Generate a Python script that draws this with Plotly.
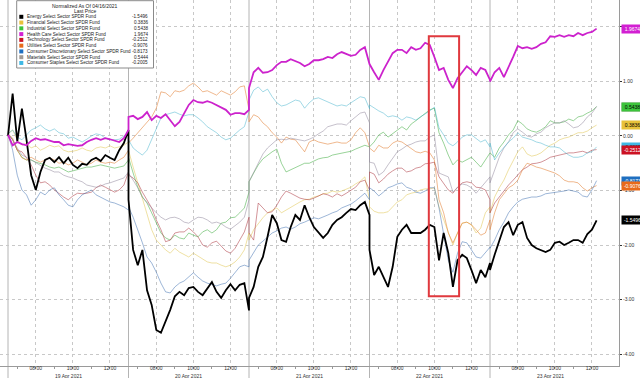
import plotly.graph_objects as go

# ---------------- data ----------------
days = ["19 Apr 2021", "20 Apr 2021", "21 Apr 2021", "22 Apr 2021", "23 Apr 2021"]
session_minutes = 390          # 06:30 - 13:00 local time
step_minutes = 15
points_per_day = [27, 27, 27, 27, 24]
tick_labels = ["08:00", "10:00", "12:00"]
tick_minutes = [90, 210, 330]
hour_minutes = [30, 90, 150, 210, 270, 330]
y_ticks = [-4, -3, -2, -1, 0, 1, 2]

names = ["Energy Select Sector SPDR Fund", "Financial Select Sector SPDR Fund",
         "Industrial Select Sector SPDR Fund", "Health Care Select Sector SPDR Fund",
         "Technology Select Sector SPDR Fund", "Utilities Select Sector SPDR Fund",
         "Consumer Discretionary Select Sector SPDR Fund", "Materials Select Sector SPDR Fund",
         "Consumer Staples Select Sector SPDR Fund"]
last_price = [-1.5496, 0.3836, 0.5438, 1.9674, -0.2512, -0.9076, -0.8173, 0.5444, -0.2005]

energy = [0.00, 0.78, -0.10, 0.50, -0.07, -0.72, -0.99, -0.66, -0.44, -0.40, -0.48, -0.39, -0.50, -0.40, -0.53, -0.59, -0.51, -0.53, -0.44, -0.40, -0.46, -0.35, -0.40, -0.44, -0.26, -0.13, 0.11,
          -1.17, -2.09, -2.37, -2.09, -2.83, -3.10, -3.56, -3.61, -3.41, -3.19, -2.94, -2.86, -2.92, -2.79, -2.77, -2.86, -2.92, -2.79, -2.68, -2.86, -2.97, -2.83, -2.72, -2.83, -2.73, -2.70, -3.20,
          -2.97, -2.77, -2.40, -2.22, -1.85, -1.45, -1.60, -1.91, -1.94, -1.67, -1.45, -1.54, -1.27, -1.49, -1.67, -1.78, -1.87, -1.78, -1.63, -1.54, -1.49, -1.41, -1.34, -1.36, -1.27, -1.21, -1.45,
          -2.09, -2.55, -2.40, -2.59, -2.77, -2.40, -1.85, -1.72, -1.63, -1.78, -1.78, -1.78, -1.72, -1.63, -1.67, -2.28, -1.78, -2.15, -2.77, -2.28, -2.18, -2.24, -2.46, -2.70, -2.46, -2.59, -2.33,
          -2.46, -2.18, -1.91, -1.67, -1.58, -1.82, -1.63, -1.58, -1.87, -2.00, -2.06, -2.09, -2.13, -2.09, -1.96, -1.94, -2.00, -1.96, -1.91, -1.91, -1.96, -1.80, -1.72, -1.55]

financials = [0.04, 0.11, -0.07, -0.17, -0.13, -0.22, -0.18, -0.26, -0.22, -0.17, -0.20, -0.18, -0.26, -0.29, -0.28, -0.26, -0.22, -0.26, -0.28, -0.22, -0.20, -0.22, -0.18, -0.22, -0.20, -0.17, -0.11,
              -0.26, -0.57, -0.86, -1.12, -1.41, -1.72, -1.91, -2.00, -2.09, -2.15, -2.06, -2.13, -2.18, -2.22, -2.15, -2.20, -2.26, -2.31, -2.33, -2.33, -2.37, -2.40, -2.37, -2.31, -2.22, -2.09, -1.78,
              -1.91, -1.72, -1.60, -1.50, -1.41, -1.36, -1.32, -1.41, -1.36, -1.30, -1.25, -1.21, -1.17, -1.16, -1.12, -1.10, -1.06, -1.05, -1.01, -1.03, -1.01, -0.97, -0.94, -0.88, -0.83, -0.75, -1.17,
              -1.30, -1.38, -1.41, -1.41, -1.39, -1.30, -1.21, -1.17, -1.08, -1.05, -1.03, -0.99, -0.97, -0.97, -0.95, -1.30, -1.54, -1.78, -2.00, -1.78, -1.60, -1.58, -1.63, -1.78, -1.69, -1.41, -1.30,
              -1.41, -1.12, -0.95, -0.81, -0.62, -0.44, -0.29, -0.20, -0.33, -0.37, -0.35, -0.31, -0.24, -0.17, -0.13, -0.07, -0.04, -0.02, 0.02, 0.06, 0.06, 0.09, 0.15, 0.20]

industrials = [0.04, -0.07, -0.26, -0.39, -0.44, -0.44, -0.48, -0.50, -0.53, -0.57, -0.59, -0.57, -0.62, -0.66, -0.64, -0.62, -0.59, -0.57, -0.57, -0.55, -0.53, -0.55, -0.57, -0.59, -0.57, -0.55, -0.44,
               -0.39, -0.68, -0.94, -1.12, -1.23, -1.41, -1.60, -1.78, -1.87, -1.91, -1.82, -1.87, -1.89, -1.78, -1.82, -1.85, -1.76, -1.72, -1.78, -1.72, -1.60, -1.58, -1.50, -1.49, -1.41, -1.32, -1.03,
               -0.84, -0.68, -0.53, -0.42, -0.35, -0.29, -0.24, -0.50, -0.66, -0.62, -0.57, -0.53, -0.50, -0.50, -0.46, -0.42, -0.40, -0.39, -0.35, -0.33, -0.31, -0.29, -0.28, -0.24, -0.20, -0.17, -0.20,
               -0.20, -0.11, 0.02, 0.07, -0.02, 0.04, 0.11, 0.17, 0.11, 0.22, 0.28, 0.35, 0.42, 0.48, 0.51, 0.06, -0.13, -0.35, -0.53, -0.44, -0.48, -0.44, -0.39, -0.48, -0.57, -0.44, -0.31,
               -0.31, -0.39, -0.22, -0.11, 0.02, 0.11, 0.28, 0.22, 0.13, 0.09, 0.07, 0.11, 0.17, 0.28, 0.24, 0.24, 0.26, 0.31, 0.28, 0.35, 0.37, 0.42, 0.46, 0.54]

health_care = [0.02, -0.17, -0.11, -0.15, -0.17, -0.09, -0.04, -0.07, -0.06, -0.09, -0.11, -0.11, -0.17, -0.15, -0.17, -0.18, -0.17, -0.11, -0.07, -0.04, -0.07, -0.04, -0.06, -0.09, -0.11, -0.04, 0.11,
               0.35, 0.37, 0.31, 0.35, 0.44, 0.29, 0.37, 0.33, 0.40, 0.29, 0.18, 0.26, 0.42, 0.57, 0.66, 0.62, 0.61, 0.64, 0.61, 0.57, 0.53, 0.48, 0.39, 0.42, 0.42, 0.40, 0.48,
               0.88, 1.17, 1.25, 1.16, 1.17, 1.21, 1.30, 1.36, 1.36, 1.41, 1.38, 1.34, 1.28, 1.32, 1.39, 1.39, 1.41, 1.45, 1.43, 1.50, 1.54, 1.50, 1.47, 1.49, 1.58, 1.63, 1.35,
               1.32, 1.17, 1.03, 1.21, 1.36, 1.52, 1.58, 1.58, 1.52, 1.63, 1.58, 1.61, 1.71, 1.67, 1.45, 1.21, 1.25, 1.03, 0.88, 1.06, 1.17, 1.28, 1.21, 1.12, 1.25, 1.21, 1.03,
               1.00, 1.17, 1.25, 1.08, 1.25, 1.45, 1.65, 1.61, 1.63, 1.60, 1.63, 1.69, 1.72, 1.83, 1.82, 1.85, 1.82, 1.85, 1.83, 1.89, 1.85, 1.89, 1.91, 1.97]

technology = [0.04, -0.07, -0.26, -0.29, -0.40, -0.53, -0.72, -0.86, -0.84, -0.90, -0.99, -1.06, -1.12, -1.17, -1.10, -1.05, -1.06, -1.05, -1.03, -0.95, -0.90, -0.94, -0.99, -1.03, -0.99, -0.90, -0.66,
              -0.72, -0.77, -0.86, -1.03, -1.17, -1.32, -1.54, -1.72, -1.94, -1.91, -1.78, -1.76, -1.76, -1.69, -1.76, -1.85, -2.00, -2.04, -1.96, -1.93, -2.02, -2.11, -2.15, -2.06, -1.91, -1.76, -1.49,
              -1.78, -1.91, -1.23, -1.32, -1.41, -1.39, -1.27, -1.12, -1.01, -1.05, -1.10, -1.14, -1.16, -1.17, -1.14, -1.10, -1.06, -1.08, -1.12, -1.06, -1.10, -1.05, -0.99, -0.94, -0.84, -0.81, -0.99,
              -0.66, -0.70, -0.86, -0.79, -0.70, -0.64, -0.59, -0.59, -0.66, -0.64, -0.59, -0.57, -0.51, -0.50, -0.48, -0.75, -0.86, -0.99, -1.05, -0.94, -0.86, -0.84, -0.86, -0.94, -0.95, -0.99, -1.17,
              -1.41, -1.23, -1.12, -0.99, -0.90, -0.81, -0.72, -0.62, -0.57, -0.51, -0.50, -0.48, -0.44, -0.39, -0.37, -0.35, -0.33, -0.31, -0.31, -0.29, -0.28, -0.31, -0.26, -0.25]

utilities = [0.04, -0.04, -0.26, -0.40, -0.44, -0.39, -0.44, -0.48, -0.44, -0.40, -0.44, -0.50, -0.48, -0.53, -0.50, -0.44, -0.48, -0.53, -0.50, -0.44, -0.48, -0.50, -0.48, -0.50, -0.44, -0.39, -0.26,
             -0.13, -0.04, 0.06, 0.15, 0.24, 0.35, 0.51, 0.81, 0.79, 0.72, 0.83, 0.81, 0.84, 0.92, 0.97, 0.90, 0.81, 0.83, 0.79, 0.75, 0.83, 0.79, 0.75, 0.81, 0.90, 0.92, 0.48,
             0.26, 0.39, 0.35, 0.24, 0.17, 0.06, -0.02, -0.13, -0.02, -0.06, -0.07, -0.17, -0.29, -0.11, -0.07, -0.11, -0.13, -0.15, -0.13, -0.11, -0.13, -0.13, -0.07, 0.06, 0.15, 0.06, -0.20,
             -0.22, -0.29, -0.17, -0.22, -0.22, -0.13, -0.09, -0.11, -0.17, -0.24, -0.29, -0.31, -0.28, -0.31, -0.44, -1.17, -1.41, -1.78, -1.96, -1.78, -1.60, -1.58, -1.63, -1.72, -1.82, -1.78, -1.54,
             -1.72, -1.41, -1.17, -1.05, -0.95, -0.90, -0.81, -0.62, -0.50, -0.53, -0.57, -0.59, -0.62, -0.66, -0.68, -0.73, -0.81, -0.84, -0.84, -0.86, -0.95, -1.01, -0.95, -0.91]

consumer_disc = [0.04, -0.26, -0.72, -0.99, -1.08, -1.27, -1.17, -1.03, -1.08, -0.99, -0.95, -1.08, -1.17, -1.27, -1.30, -1.17, -1.08, -1.03, -0.99, -1.08, -1.12, -1.17, -1.21, -1.23, -1.27, -1.30, -1.36,
                 -1.30, -1.49, -1.72, -1.96, -2.22, -2.33, -2.50, -2.70, -2.86, -2.88, -2.77, -2.70, -2.66, -2.59, -2.51, -2.59, -2.66, -2.70, -2.73, -2.75, -2.72, -2.70, -2.61, -2.51, -2.40, -2.37, -2.40,
                 -2.28, -2.13, -2.00, -1.93, -1.85, -1.78, -1.74, -1.69, -1.67, -1.71, -1.67, -1.61, -1.58, -1.54, -1.50, -1.52, -1.49, -1.45, -1.41, -1.38, -1.32, -1.28, -1.25, -1.19, -1.12, -1.05, -1.17,
                 -0.95, -1.01, -1.10, -1.03, -0.95, -0.92, -0.88, -0.86, -0.94, -0.97, -1.03, -1.05, -1.01, -0.95, -0.95, -1.32, -1.78, -2.28, -2.50, -2.15, -1.94, -1.96, -2.09, -2.22, -2.24, -2.15, -2.04,
                 -2.06, -1.91, -1.72, -1.58, -1.41, -1.30, -1.21, -1.16, -1.14, -1.12, -1.12, -1.10, -1.06, -1.05, -1.03, -1.03, -1.01, -0.99, -1.01, -1.03, -1.10, -1.12, -0.99, -0.82]

materials = [0.04, -0.07, -0.22, -0.35, -0.39, -0.44, -0.50, -0.55, -0.59, -0.62, -0.66, -0.66, -0.72, -0.75, -0.77, -0.81, -0.84, -0.90, -0.92, -0.94, -0.92, -0.88, -0.86, -0.83, -0.81, -0.77, -0.66,
             -0.68, -0.81, -0.95, -1.12, -1.23, -1.32, -1.41, -1.49, -1.54, -1.50, -1.49, -1.52, -1.58, -1.60, -1.54, -1.49, -1.50, -1.54, -1.60, -1.58, -1.61, -1.67, -1.71, -1.65, -1.58, -1.49, -1.17,
             -0.84, -0.66, -0.48, -0.33, -0.22, -0.15, -0.07, -0.06, -0.07, -0.04, -0.06, -0.07, -0.09, -0.06, -0.02, 0.04, 0.09, 0.17, 0.20, 0.22, 0.22, 0.20, 0.28, 0.35, 0.42, 0.44, 0.24,
             -0.48, -0.50, -0.72, -0.66, -0.53, -0.42, -0.29, -0.24, -0.18, -0.15, -0.11, -0.09, -0.09, -0.02, 0.02, -0.68, -0.72, -0.75, -1.03, -0.94, -0.88, -0.90, -0.95, -1.05, -0.95, -0.86, -0.75,
             -0.86, -0.62, -0.39, -0.22, -0.11, 0.06, 0.13, 0.07, 0.00, -0.02, 0.04, 0.07, 0.15, 0.20, 0.24, 0.24, 0.28, 0.22, 0.15, 0.17, 0.24, 0.35, 0.42, 0.54]

staples = [0.04, 0.11, -0.02, -0.07, 0.02, 0.11, 0.15, 0.20, 0.13, 0.09, 0.13, 0.06, 0.04, -0.04, -0.02, -0.07, -0.11, -0.06, 0.00, 0.04, 0.02, -0.04, -0.07, -0.07, -0.06, 0.00, 0.07,
           -0.07, -0.22, -0.29, -0.35, -0.26, -0.07, 0.15, 0.33, 0.39, 0.42, 0.44, 0.40, 0.37, 0.39, 0.39, 0.33, 0.26, 0.17, 0.11, 0.06, -0.02, -0.07, -0.04, 0.04, 0.11, 0.17, 0.44,
           0.66, 0.84, 0.90, 0.81, 0.86, 0.72, 0.61, 0.55, 0.57, 0.61, 0.66, 0.64, 0.51, 0.61, 0.68, 0.70, 0.66, 0.62, 0.59, 0.55, 0.57, 0.55, 0.61, 0.66, 0.72, 0.70, 0.50,
           0.57, 0.51, 0.46, 0.42, 0.35, 0.37, 0.35, 0.29, 0.35, 0.33, 0.29, 0.35, 0.40, 0.46, 0.53, 0.15, 0.02, -0.13, -0.18, -0.11, -0.02, 0.02, 0.02, -0.04, -0.11, -0.07, -0.20,
           -0.13, -0.44, -0.31, -0.20, -0.11, -0.04, 0.06, -0.02, -0.04, -0.07, -0.11, -0.13, -0.17, -0.20, -0.20, -0.22, -0.29, -0.35, -0.39, -0.39, -0.37, -0.31, -0.29, -0.20]

# highlighted window on 22 Apr (day index 3)
highlight_day = 3
highlight_minutes = (192, 290)
highlight_values = (-2.94, 1.83)

# ---------------- styles ----------------
series = [energy, financials, industrials, health_care, technology, utilities,
          consumer_disc, materials, staples]
swatch_colors = ["#000000", "#e8c23a", "#3cc43c", "#d21fd2", "#cc1122", "#e86a1a",
                 "#1f6fc0", "#a29a94", "#3fb8e4"]
line_colors = ["#000000", "rgba(225,200,90,0.55)", "rgba(70,175,70,0.55)", "#cc22cc",
               "rgba(175,60,70,0.55)", "rgba(225,125,50,0.55)", "rgba(60,110,175,0.5)",
               "rgba(150,140,160,0.55)", "rgba(70,180,205,0.5)"]
label_font_colors = ["#ffffff", "#000000", "#000000", "#ffffff", "#ffffff", "#ffffff",
                     "#ffffff", "#000000", "#000000"]

x = []
for d, n in enumerate(points_per_day):
    x += [d * session_minutes + i * step_minutes for i in range(n)]
for s in series:
    assert len(s) == len(x), (len(s), len(x))

fig = go.Figure()
draw_order = [1, 2, 4, 5, 6, 7, 8, 0, 3]
for k in draw_order:
    thick = k in (0, 3)
    fig.add_trace(go.Scatter(x=x, y=series[k], mode="lines", name=names[k],
                             line=dict(color=line_colors[k], width=1.8 if thick else 1),
                             showlegend=False, hoverinfo="skip"))

FONT = "Liberation Sans"
tickvals, ticktext = [], []
for d, day in enumerate(days):
    for m, lab in zip(tick_minutes, tick_labels):
        tickvals.append(d * session_minutes + m)
        ticktext.append(lab)
minor_vals = [d * session_minutes + m for d in range(len(days)) for m in hour_minutes]
# the top tick label sits under the Health Care tag, as in the source
y_ticktext = ["" if v == max(y_ticks) else f"{v:.2f}" for v in y_ticks]

PLOT_W, PLOT_H = 619, 366
x_per_px = session_minutes / 120.5
x_lo = -8 * x_per_px
x_hi = x_lo + PLOT_W * x_per_px
y_lo, y_hi = -4.22, 2.495

fig.update_layout(
    width=640, height=378,
    margin=dict(l=0, r=640 - PLOT_W, t=0, b=378 - PLOT_H, pad=0),
    paper_bgcolor="white", plot_bgcolor="white",
    font=dict(family=FONT, size=5, color="#333333"),
    xaxis=dict(range=[x_lo, x_hi], tickmode="array", tickvals=tickvals, ticktext=ticktext,
               showgrid=True, gridcolor="#c8c8c8", griddash="dot", gridwidth=1,
               showline=True, linecolor="#9a9a9a", linewidth=1,
               ticks="outside", ticklen=2, tickcolor="#777", zeroline=False,
               ticklabelstandoff=-5,
               tickfont=dict(size=5, color="#333"), automargin=False,
               minor=dict(tickvals=minor_vals, ticks="outside", ticklen=2, tickcolor="#999", showgrid=False)),
    yaxis=dict(range=[y_lo, y_hi], side="right", tickmode="array",
               tickvals=y_ticks, ticktext=y_ticktext,
               showgrid=True, gridcolor="#c8c8c8", griddash="dot", gridwidth=1,
               showline=True, linecolor="#9a9a9a", linewidth=1, zeroline=False,
               ticks="outside", ticklen=2, tickcolor="#333", automargin=False,
               tickfont=dict(size=5, color="#333")),
)

shapes = []
for d in range(len(days)):
    shapes.append(dict(type="line", xref="x", yref="paper", x0=d * session_minutes,
                       x1=d * session_minutes, y0=-12 / PLOT_H, y1=1,
                       line=dict(color="#b4b4b4", width=1), layer="below"))
hx0 = highlight_day * session_minutes + highlight_minutes[0]
hx1 = highlight_day * session_minutes + highlight_minutes[1]
shapes.append(dict(type="rect", xref="x", yref="y", x0=hx0, x1=hx1,
                   y0=highlight_values[0], y1=highlight_values[1],
                   line=dict(color="#e0393e", width=2), fillcolor="rgba(0,0,0,0)"))


def px(xp):
    return xp / PLOT_W


def py(yp):
    return 1 - yp / PLOT_H


annotations = []
# date labels centred under each session
for d, day in enumerate(days):
    annotations.append(dict(xref="x", yref="paper", x=d * session_minutes + session_minutes / 2,
                            y=py(375.5), text=day, showarrow=False, xanchor="center",
                            yanchor="middle", font=dict(family=FONT, size=5, color="#333")))

# legend box (drawn as shapes + text)
shapes.append(dict(type="rect", xref="paper", yref="paper", x0=px(16.7), x1=px(153.5),
                   y0=py(68), y1=py(0.7), line=dict(color="#8a8a8a", width=1),
                   fillcolor="white", layer="above"))
annotations.append(dict(xref="paper", yref="paper", x=px(85), y=py(5.8), text="Normalized As Of 04/16/2021",
                        showarrow=False, xanchor="center", yanchor="middle",
                        font=dict(family=FONT, size=5, color="#222")))
annotations.append(dict(xref="paper", yref="paper", x=px(85), y=py(11.2), text="Last Price",
                        showarrow=False, xanchor="center", yanchor="middle",
                        font=dict(family=FONT, size=5, color="#222")))
for i, (nm, lp) in enumerate(zip(names, last_price)):
    yy = 16.8 + 5.77 * i
    shapes.append(dict(type="rect", xref="paper", yref="paper", x0=px(19.3), x1=px(23.3),
                       y0=py(yy + 2), y1=py(yy - 2), line=dict(width=0),
                       fillcolor=swatch_colors[i], layer="above"))
    annotations.append(dict(xref="paper", yref="paper", x=px(25), y=py(yy), text=nm,
                            showarrow=False, xanchor="left", yanchor="middle",
                            font=dict(family=FONT, size=4.6, color="#222")))
    annotations.append(dict(xref="paper", yref="paper", x=px(150), y=py(yy), text=f"{lp:.4f}",
                            showarrow=False, xanchor="right", yanchor="middle",
                            font=dict(family=FONT, size=4.6, color="#222")))

# last-price tags on the right axis
label_order = [7, 2, 1, 8, 4, 6, 5, 0, 3]
for k in label_order:
    annotations.append(dict(xref="paper", yref="y", x=1, y=series[k][-1], xshift=2,
                            text=f"{last_price[k]:.4f}", showarrow=False,
                            xanchor="left", yanchor="middle", bgcolor=swatch_colors[k],
                            borderpad=1, width=19,
                            font=dict(family=FONT, size=5, color=label_font_colors[k])))

fig.update_layout(shapes=shapes, annotations=annotations)

fig.write_html("out.html", include_plotlyjs=True, config={"displayModeBar": False},
               post_script="document.body.style.margin='0';document.body.style.overflow='hidden';")
